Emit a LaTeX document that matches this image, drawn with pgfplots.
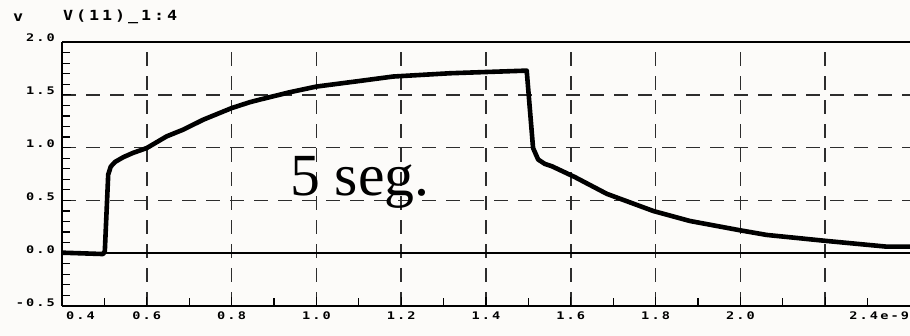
\documentclass[border=0pt]{standalone}
\usepackage{pgfplots}
\pgfplotsset{compat=1.18}
\usepackage{fontspec}
\setmainfont{Liberation Serif}
\newfontfamily\tickfont[LetterSpace=20,FakeStretch=1.3]{DejaVu Sans Mono}
\newfontfamily\titlefont[LetterSpace=21,FakeStretch=1.2]{DejaVu Sans Mono}
\definecolor{bgcol}{RGB}{252,251,249}
\definecolor{gridcol}{RGB}{45,45,45}

\pgfplotstableread{
t v
0.400 0.005
0.497 -0.008
0.501 0.02
0.509 0.745
0.515 0.82
0.525 0.864
0.545 0.91
0.567 0.949
0.600 0.996
0.647 1.107
0.686 1.17
0.733 1.264
0.800 1.374
0.843 1.43
0.867 1.455
0.938 1.525
1.000 1.578
1.100 1.630
1.181 1.673
1.315 1.704
1.496 1.729
1.511 0.996
1.523 0.887
1.539 0.845
1.555 0.824
1.610 0.720
1.685 0.562
1.795 0.399
1.881 0.305
1.999 0.217
2.062 0.173
2.203 0.116
2.345 0.062
2.400 0.062
}\curve

\begin{document}
\begin{tikzpicture}
\fill[bgcol] (0,0) rectangle (910bp,336bp);
\begin{axis}[
  at={(62bp,30bp)}, anchor=south west,
  width=848bp, height=264bp, scale only axis,
  xmin=0.4, xmax=2.4, ymin=-0.5, ymax=2.0,
  axis x line*=box, axis y line*=left,
  y axis line style={-},
  axis line style={black, line width=1.6bp},
  xtick={0.6,0.8,1.0,1.2,1.4,1.6,1.8,2.0,2.2},
  xticklabels={0.6,0.8,1.0,1.2,1.4,1.6,1.8,2.0,{}},
  extra x ticks={0.4,2.4},
  extra x tick labels={\makebox[0pt][l]{\hspace{4bp}0.4},\makebox[0pt][r]{2.4e-9\hspace{1bp}}},
  extra x tick style={grid=none, major tick length=0pt},
  minor xtick={0.5,0.7,0.9,1.1,1.3,1.5,1.7,1.9,2.1,2.3},
  ytick={-0.5,0,0.5,1.0,1.5,2.0},
  yticklabels={-0.5,0.0,0.5,1.0,1.5,2.0},
  minor y tick num=4,
  tick pos=left,
  tick align=inside,
  major tick length=9bp,
  minor tick length=8bp,
  tick style={black, line width=1.2bp},
  grid=major,
  major grid style={gridcol, line width=1.6bp, dash pattern=on 14bp off 10bp},
  ticklabel style={font=\tickfont\bfseries\fontsize{10.5}{10.5}\selectfont, inner sep=0pt},
  xticklabel style={anchor=north, yshift=-6bp},
  yticklabel style={anchor=base east, xshift=-7bp},
]
\addplot[black, line width=1.4bp] coordinates {(0.4,0) (2.4,0)};
\addplot[black, line width=4.6bp, line join=round, line cap=round] table[x=t, y=v] {\curve};
\node[anchor=base west, inner sep=0pt, font=\fontsize{60}{60}\selectfont] at (axis cs:0.9377,0.551) {5 seg.};
\end{axis}
\node[anchor=base west, inner sep=0pt, font=\titlefont\bfseries\fontsize{14}{14}\selectfont] at (13bp,314bp) {v};
\node[anchor=base west, inner sep=0pt, font=\titlefont\bfseries\fontsize{14}{14}\selectfont] at (63bp,315bp) {V(11)\_1:4};
\pgfresetboundingbox
\path[use as bounding box] (0,0) rectangle (910bp,336bp);
\end{tikzpicture}
\end{document}
